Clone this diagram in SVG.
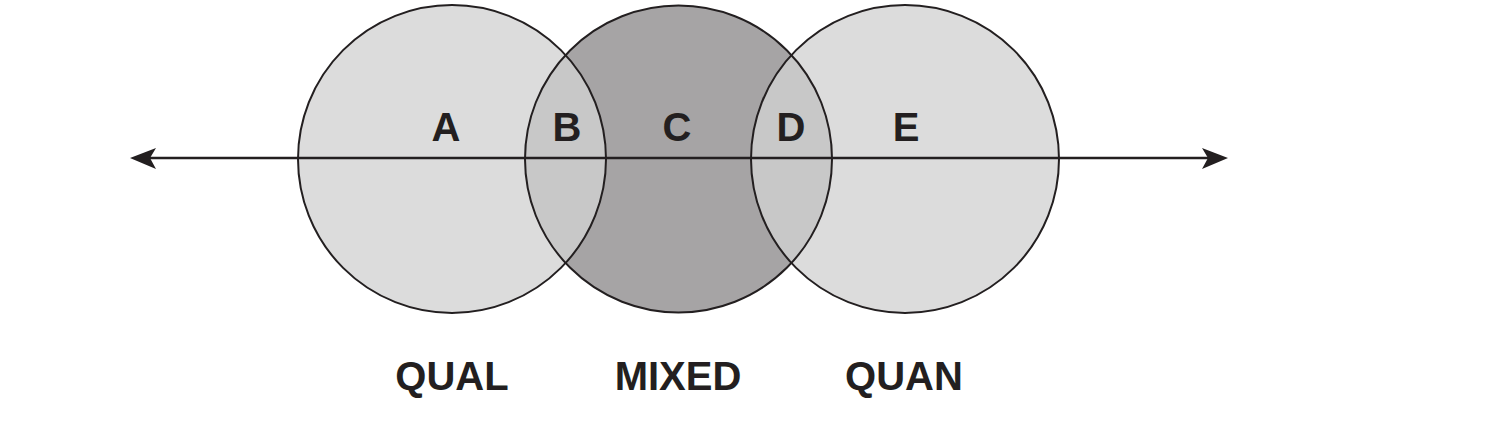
<svg xmlns="http://www.w3.org/2000/svg" width="1511" height="433" viewBox="0 0 1511 433">
<style>
.lbl{font-family:"Liberation Sans",Arial,sans-serif;font-weight:bold;fill:#231f20;text-anchor:middle}
.ring{fill:none;stroke:#231f20;stroke-width:2}
</style>
<rect width="1511" height="433" fill="#ffffff"/>
<g id="fills">
<circle cx="452" cy="159" r="154" fill="#dcdcdc"/>
<circle cx="905" cy="159" r="154" fill="#dcdcdc"/>
<circle cx="678.5" cy="159" r="153.5" fill="#a6a4a5"/>
<path d="M565.3 54.7 A154 154 0 0 1 565.3 263.3 A153.5 153.5 0 0 1 565.3 54.7 Z" fill="#c8c8c8"/>
<path d="M791.7 54.7 A153.5 153.5 0 0 1 791.7 263.3 A154 154 0 0 1 791.7 54.7 Z" fill="#c8c8c8"/>
</g>
<g id="node-qual"><circle class="ring" cx="452" cy="159" r="154"/></g>
<g id="node-mixed"><circle class="ring" cx="678.5" cy="159" r="153.5"/></g>
<g id="node-quan"><circle class="ring" cx="905" cy="159" r="154"/></g>
<g id="connectors">
<line x1="145" y1="158" x2="1215" y2="158" stroke="#231f20" stroke-width="2.5"/>
<polygon points="130,158 156,148 150,158 156,169" fill="#231f20"/>
<polygon points="1228,158 1202,148 1208,158 1202,169" fill="#231f20"/>
</g>
<g id="letters">
<text class="lbl" x="446" y="141" font-size="40">A</text>
<text class="lbl" x="567" y="141" font-size="40">B</text>
<text class="lbl" x="677" y="141" font-size="40">C</text>
<text class="lbl" x="791" y="141" font-size="40">D</text>
<text class="lbl" x="906" y="141" font-size="40">E</text>
</g>
<g id="labels">
<text class="lbl" x="452" y="390" font-size="40">QUAL</text>
<text class="lbl" x="678" y="390" font-size="40">MIXED</text>
<text class="lbl" x="904" y="390" font-size="40">QUAN</text>
</g>
</svg>
